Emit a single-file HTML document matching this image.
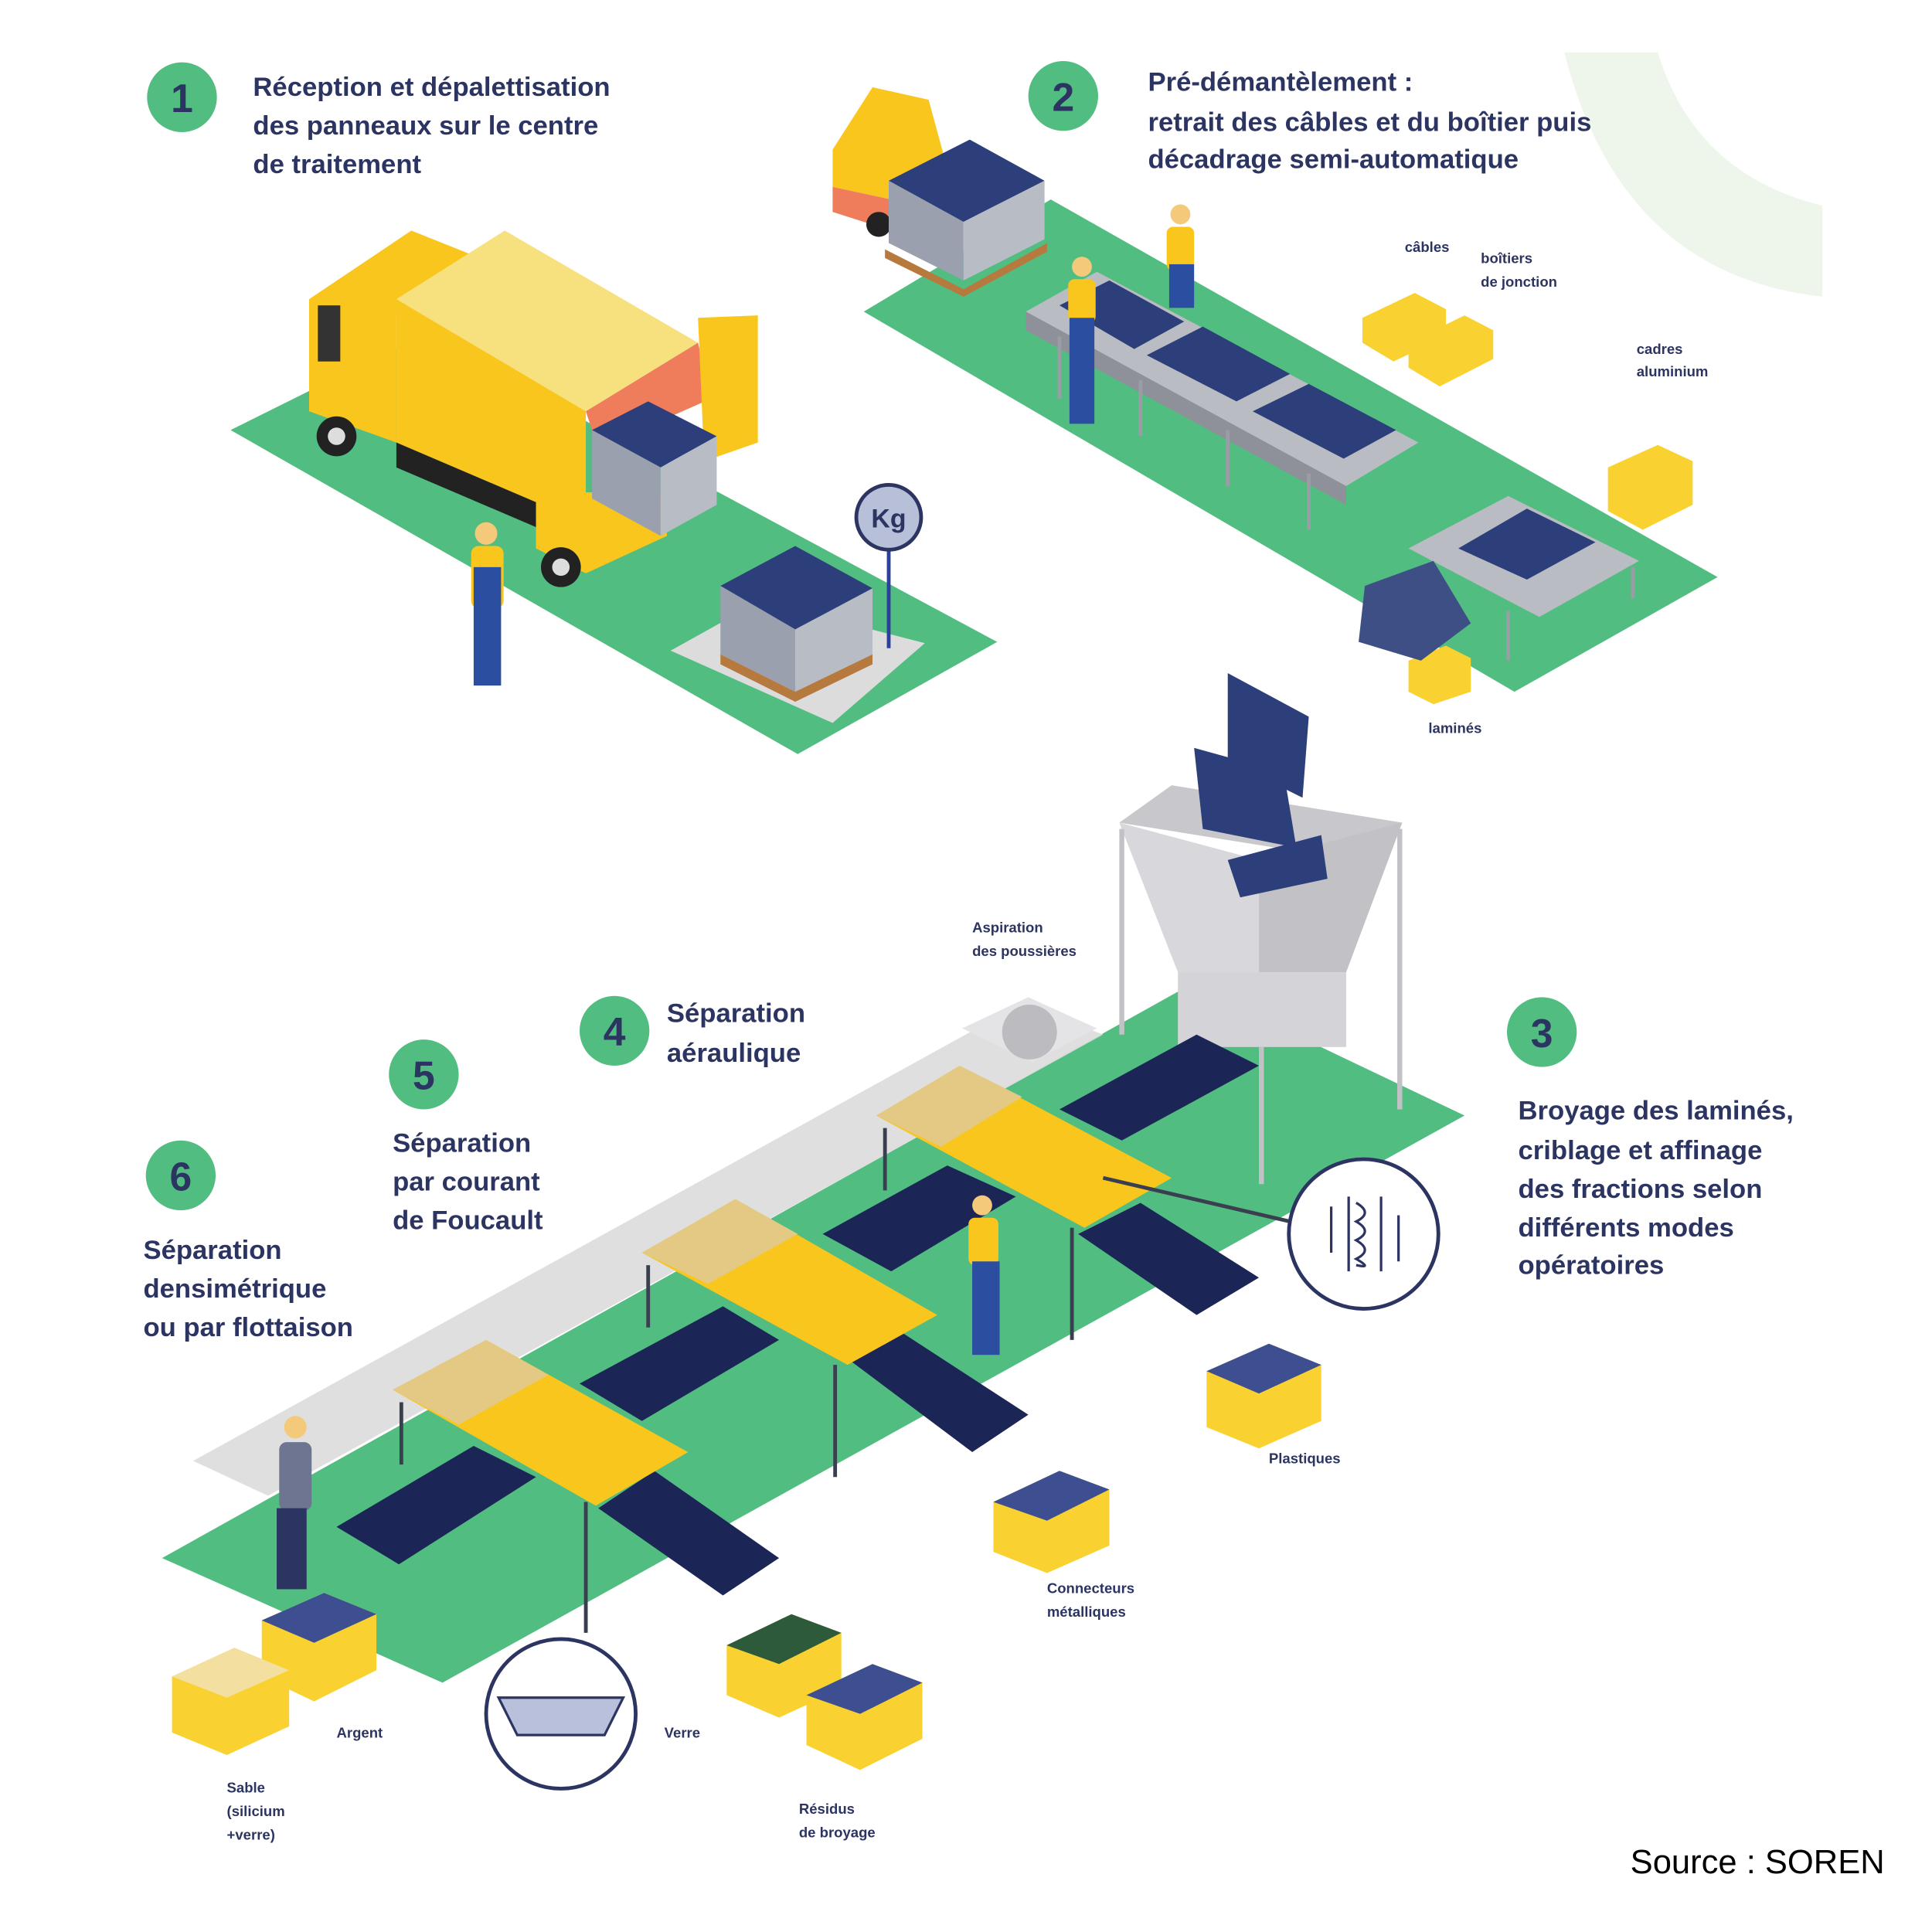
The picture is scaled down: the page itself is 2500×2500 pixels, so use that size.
<!DOCTYPE html>
<html><head><meta charset="utf-8"><style>
html,body{margin:0;padding:0;background:#fff}
svg{display:block}
text{font-family:"Liberation Sans",sans-serif;font-weight:bold;fill:#2c3462}
</style></head><body>
<svg width="2500" height="2500" viewBox="0 0 1550 1550" xmlns="http://www.w3.org/2000/svg">
<rect width="1550" height="1550" fill="#fff"/>
<path d="M1255 42 L1330 42 Q1360 140 1462 165 L1462 238 Q1300 220 1255 42Z" fill="#eef6ec"/>
<polygon points="185,345 340,268 800,515 640,605" fill="#52bd80"/>
<polygon points="693,250 843,160 1378,463 1215,555" fill="#52bd80"/>
<polygon points="130,1250 955,790 1175,895 355,1350" fill="#52bd80"/>
<polygon points="155,1172 820,805 885,830 215,1200" fill="#dcdcdc" opacity="0.9"/>
<polygon points="538,522 610,482 742,516 668,580" fill="#dcdcdc"/>
<polygon points="248,240 330,185 380,205 318,252 318,355 248,330" fill="#f9c61e"/>
<polygon points="318,240 405,185 560,275 470,330" fill="#f7e07e"/>
<polygon points="318,240 470,330 470,420 318,355" fill="#f9c61e"/>
<polygon points="470,330 560,275 570,320 480,360" fill="#ef7c5a"/>
<polygon points="560,255 608,253 608,355 565,370" fill="#f9c61e"/>
<polygon points="318,355 470,420 470,440 318,375" fill="#222"/>
<polygon points="430,385 470,395 535,395 535,430 470,460 430,440" fill="#f9c61e"/>
<circle cx="270" cy="350" r="16" fill="#222"/><circle cx="270" cy="350" r="7" fill="#ddd"/>
<circle cx="450" cy="455" r="16" fill="#222"/><circle cx="450" cy="455" r="7" fill="#ddd"/>
<rect x="255" y="245" width="18" height="45" fill="#333"/>
<g>
<polygon points="475,345 520,322 575,350 530,375" fill="#2c3f7a"/>
<polygon points="475,345 530,375 530,430 475,400" fill="#9aa0ad"/>
<polygon points="530,375 575,350 575,405 530,430" fill="#b8bcc5"/>
</g>
<g>
<polygon points="578,470 638,438 700,472 638,505" fill="#2c3f7a"/>
<polygon points="578,470 638,505 638,555 578,525" fill="#9aa0ad"/>
<polygon points="638,505 700,472 700,525 638,555" fill="#b8bcc5"/>
<polygon points="578,525 638,555 700,525 700,533 638,563 578,533" fill="#b67a3e"/>
</g>
<line x1="713" y1="430" x2="713" y2="520" stroke="#2c3f9a" stroke-width="3"/>
<circle cx="713" cy="415" r="26" fill="#b8bfd8" stroke="#2c3462" stroke-width="3"/>
<text x="713" y="423" font-size="21" text-anchor="middle">Kg</text>
<g><circle cx="390" cy="428" r="9" fill="#f5c97a"/><rect x="378" y="438" width="26" height="50" rx="6" fill="#f9c61e"/><rect x="380" y="455" width="22" height="95" fill="#2b4ea0"/></g>
<polygon points="668,120 700,70 745,80 760,135 715,160 668,150" fill="#f9c61e"/>
<polygon points="668,150 715,160 715,185 668,170" fill="#ef7c5a"/>
<circle cx="705" cy="180" r="10" fill="#222"/>
<polygon points="713,145 778,112 838,145 773,178" fill="#2c3f7a"/>
<polygon points="713,145 773,178 773,225 713,195" fill="#9aa0ad"/>
<polygon points="773,178 838,145 838,192 773,225" fill="#b8bcc5"/>
<polygon points="710,200 773,232 840,195 840,202 773,238 710,207" fill="#b67a3e"/>
<polygon points="823,250 880,218 1138,355 1080,390" fill="#b9bcc2"/>
<polygon points="823,250 1080,390 1080,405 823,265" fill="#8e9199"/>
<polygon points="850,245 890,225 950,258 910,280" fill="#2c3f7a"/>
<polygon points="920,285 965,262 1035,300 992,322" fill="#2c3f7a"/>
<polygon points="1005,330 1050,308 1120,345 1078,368" fill="#2c3f7a"/>
<polygon points="1130,440 1210,398 1315,450 1235,495" fill="#b9bcc2"/>
<polygon points="1170,440 1225,408 1280,435 1225,465" fill="#2c3f7a"/>
<g stroke="#9a9da5" stroke-width="3"><line x1="850" y1="270" x2="850" y2="320"/><line x1="915" y1="305" x2="915" y2="350"/><line x1="985" y1="345" x2="985" y2="390"/><line x1="1050" y1="380" x2="1050" y2="425"/><line x1="1210" y1="490" x2="1210" y2="530"/><line x1="1310" y1="455" x2="1310" y2="480"/></g>
<g><circle cx="868" cy="214" r="8" fill="#f5c97a"/><rect x="857" y="224" width="22" height="35" rx="5" fill="#f9c61e"/><rect x="858" y="255" width="20" height="85" fill="#2b4ea0"/></g>
<g><circle cx="947" cy="172" r="8" fill="#f5c97a"/><rect x="936" y="182" width="22" height="35" rx="5" fill="#f9c61e"/><rect x="938" y="212" width="20" height="35" fill="#2b4ea0"/></g>
<g fill="#f9d232"><polygon points="1093,255 1135,235 1160,248 1160,270 1118,290 1093,275"/><polygon points="1130,275 1175,253 1198,265 1198,288 1155,310 1130,295"/><polygon points="1290,375 1330,357 1358,370 1358,405 1318,425 1290,410"/><polygon points="1130,530 1160,518 1180,528 1180,555 1150,565 1130,555"/></g>
<polygon points="1095,470 1150,450 1180,500 1140,530 1090,515" fill="#3d4f85"/>
<polygon points="898,660 940,630 1125,660 1085,690" fill="#c8c8cc"/>
<polygon points="898,660 1010,690 1010,780 945,780" fill="#d8d8dc"/>
<polygon points="1010,690 1125,660 1080,780 1010,780" fill="#c2c2c6"/>
<rect x="945" y="780" width="135" height="60" fill="#d4d4d8"/>
<polygon points="985,540 1050,575 1045,640 985,610" fill="#2c3f7a"/>
<polygon points="958,600 1030,620 1040,680 965,665" fill="#2c3f7a"/>
<polygon points="985,690 1060,670 1065,705 995,720" fill="#2c3f7a"/>
<g stroke="#c2c2c6" stroke-width="4" fill="none"><line x1="900" y1="665" x2="900" y2="830"/><line x1="1123" y1="665" x2="1123" y2="890"/><line x1="1012" y1="840" x2="1012" y2="950"/></g>
<polygon points="772,825 825,800 880,825 828,852" fill="#e4e4e6"/>
<circle cx="826" cy="828" r="22" fill="#bcbcc0"/>
<g fill="#1c2656">
<polygon points="850,890 960,830 1010,855 900,915"/>
<polygon points="660,990 760,935 815,960 715,1020"/>
<polygon points="865,990 915,965 1010,1025 960,1055"/>
<polygon points="465,1110 580,1048 625,1075 515,1140"/>
<polygon points="680,1090 725,1070 825,1135 780,1165"/>
<polygon points="270,1225 380,1160 430,1185 320,1255"/>
<polygon points="480,1210 525,1180 625,1250 580,1280"/>
</g>
<g>
<polygon points="703,895 770,855 940,945 870,985" fill="#f9c61e"/><polygon points="703,895 770,855 820,880 755,920" fill="#e3c984"/>
<polygon points="515,1005 590,962 752,1055 680,1095" fill="#f9c61e"/><polygon points="515,1005 590,962 640,990 568,1030" fill="#e3c984"/>
<polygon points="315,1115 390,1075 552,1165 478,1208" fill="#f9c61e"/><polygon points="315,1115 390,1075 440,1103 368,1143" fill="#e3c984"/>
</g>
<g stroke="#3a3f50" stroke-width="3"><line x1="710" y1="905" x2="710" y2="955"/><line x1="860" y1="985" x2="860" y2="1075"/><line x1="520" y1="1015" x2="520" y2="1065"/><line x1="670" y1="1095" x2="670" y2="1185"/><line x1="322" y1="1125" x2="322" y2="1175"/><line x1="470" y1="1205" x2="470" y2="1310"/><line x1="885" y1="945" x2="1035" y2="980"/></g>
<g><circle cx="788" cy="967" r="8" fill="#f5c97a"/><rect x="777" y="977" width="24" height="38" rx="5" fill="#f9c61e"/><rect x="780" y="1012" width="22" height="75" fill="#2b4ea0"/></g>
<g><circle cx="237" cy="1145" r="9" fill="#f5c97a"/><rect x="224" y="1157" width="26" height="55" rx="6" fill="#6d7590"/><rect x="222" y="1210" width="24" height="65" fill="#2c3462"/></g>
<circle cx="1094" cy="990" r="60" fill="#fff" stroke="#2c3462" stroke-width="3"/>
<g stroke="#2c3462" stroke-width="2" fill="none"><line x1="1082" y1="960" x2="1082" y2="1020"/><line x1="1108" y1="960" x2="1108" y2="1020"/><path d="M1088 965 q14 8 0 15 q14 8 0 15 q14 8 0 15 q14 8 0 5"/><line x1="1068" y1="968" x2="1068" y2="1005"/><line x1="1122" y1="975" x2="1122" y2="1012"/></g>
<circle cx="450" cy="1375" r="60" fill="#fff" stroke="#2c3462" stroke-width="3"/>
<polygon points="400,1362 500,1362 485,1392 415,1392" fill="#b9c0dc" stroke="#2c3462" stroke-width="2"/>
<g>
<polygon points="968,1100 1018,1078 1060,1095 1060,1140 1010,1162 968,1145" fill="#f9d232"/><polygon points="968,1100 1018,1078 1060,1095 1010,1118" fill="#3d4f90"/>
<polygon points="797,1205 850,1180 890,1195 890,1240 840,1262 797,1245" fill="#f9d232"/><polygon points="797,1205 850,1180 890,1195 840,1220" fill="#3d4f90"/>
<polygon points="583,1320 635,1295 675,1310 675,1355 625,1378 583,1360" fill="#f9d232"/><polygon points="583,1320 635,1295 675,1310 625,1335" fill="#2d5a3a"/>
<polygon points="647,1360 700,1335 740,1350 740,1395 690,1420 647,1400" fill="#f9d232"/><polygon points="647,1360 700,1335 740,1350 690,1375" fill="#3d4f90"/>
<polygon points="210,1300 260,1278 302,1295 302,1340 252,1365 210,1345" fill="#f9d232"/><polygon points="210,1300 260,1278 302,1295 252,1318" fill="#3d4f90"/>
<polygon points="138,1345 188,1322 232,1340 232,1385 182,1408 138,1390" fill="#f9d232"/><polygon points="138,1345 188,1322 232,1340 182,1362" fill="#f3dfa0"/>
</g>
<g fill="#52bd80"><circle cx="146" cy="78" r="28"/><circle cx="853" cy="77" r="28"/><circle cx="1237" cy="828" r="28"/><circle cx="493" cy="827" r="28"/><circle cx="340" cy="862" r="28"/><circle cx="145" cy="943" r="28"/></g>
<g font-size="32" text-anchor="middle" fill="#2c3462"><text x="146" y="90">1</text><text x="853" y="89">2</text><text x="1237" y="840">3</text><text x="493" y="839">4</text><text x="340" y="874">5</text><text x="145" y="955">6</text></g>
<g font-size="21.5">
<text x="203" y="77">Réception et dépalettisation</text><text x="203" y="108">des panneaux sur le centre</text><text x="203" y="139">de traitement</text>
<text x="921" y="73">Pré-démantèlement :</text><text x="921" y="105">retrait des câbles et du boîtier puis</text><text x="921" y="135">décadrage semi-automatique</text>
<text x="1218" y="898">Broyage des laminés,</text><text x="1218" y="930">criblage et affinage</text><text x="1218" y="961">des fractions selon</text><text x="1218" y="992">différents modes</text><text x="1218" y="1022">opératoires</text>
<text x="535" y="820">Séparation</text><text x="535" y="852">aéraulique</text>
<text x="315" y="924">Séparation</text><text x="315" y="955">par courant</text><text x="315" y="986">de Foucault</text>
<text x="115" y="1010">Séparation</text><text x="115" y="1041">densimétrique</text><text x="115" y="1072">ou par flottaison</text>
</g>
<g font-size="11.5">
<text x="1127" y="202">câbles</text><text x="1188" y="211">boîtiers</text><text x="1188" y="230">de jonction</text>
<text x="1313" y="284">cadres</text><text x="1313" y="302">aluminium</text>
<text x="1146" y="588">laminés</text>
<text x="780" y="748">Aspiration</text><text x="780" y="767">des poussières</text>
<text x="1018" y="1174">Plastiques</text>
<text x="840" y="1278">Connecteurs</text><text x="840" y="1297">métalliques</text>
<text x="270" y="1394">Argent</text><text x="533" y="1394">Verre</text>
<text x="182" y="1438">Sable</text><text x="182" y="1457">(silicium</text><text x="182" y="1476">+verre)</text>
<text x="641" y="1455">Résidus</text><text x="641" y="1474">de broyage</text>
</g>
<text x="1308" y="1503" font-size="27" style="font-weight:normal;fill:#000">Source : SOREN</text>
</svg>
</body></html>
